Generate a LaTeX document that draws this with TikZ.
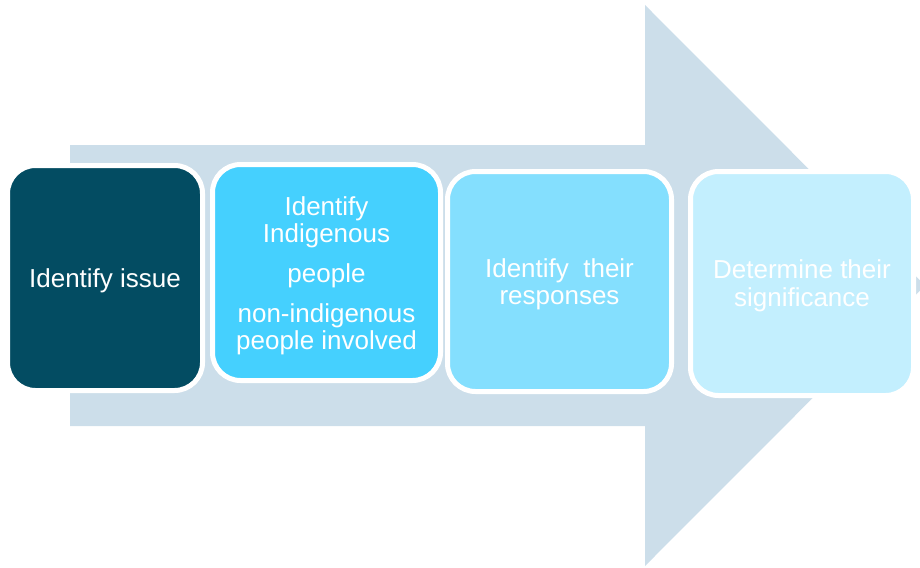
\documentclass[tikz,border=0pt]{standalone}
\usepackage{fontspec}
\setmainfont{Liberation Sans}
\definecolor{arrowfill}{HTML}{CCDEEA}
\definecolor{boxA}{HTML}{034C62}
\definecolor{boxB}{HTML}{45D0FE}
\definecolor{boxC}{HTML}{84DFFE}
\definecolor{boxD}{HTML}{C3EFFE}
\tikzset{
  stepbox/.style={draw=white, line width=5pt, rounded corners=28pt, inner sep=0pt},
  steptext/.style={text=white, align=center, inner sep=0pt,
    font=\fontsize{26pt}{27pt}\selectfont}
}
\begin{document}
\begin{tikzpicture}[x=1pt,y=-1pt]
\useasboundingbox (0,0) rectangle (920,567);
\clip (0,0) rectangle (920,567);
\fill[arrowfill] (70,145) -- (645,145) -- (645,5) -- (925,285.5) -- (645,566) -- (645,426) -- (70,426) -- cycle;
\node[stepbox, fill=boxA, minimum width=195pt, minimum height=225pt] (a) at (105,278) {};
\node[stepbox, fill=boxB, minimum width=228pt, minimum height=216pt] (b) at (326.5,272.5) {};
\node[stepbox, fill=boxC, minimum width=224pt, minimum height=220pt] (c) at (559.5,281.5) {};
\node[stepbox, fill=boxD, minimum width=223pt, minimum height=224pt] (d) at (802,283.5) {};
\node[steptext] (ta) at ([yshift=-3pt]a.center) {Identify issue};
\node[steptext] (tb) at ([yshift=-3.5pt]b.center)
  {Identify\\Indigenous\\[13pt]people\\[13pt]non-indigenous\\people involved};
\node[steptext] (tc) at ([yshift=-2.5pt]c.center) {Identify~~their\\responses};
\node[steptext, font=\fontsize{26pt}{28pt}\selectfont] (td) at ([yshift=-2.5pt]d.center)
  {Determine their\\significance};
\end{tikzpicture}
\end{document}
